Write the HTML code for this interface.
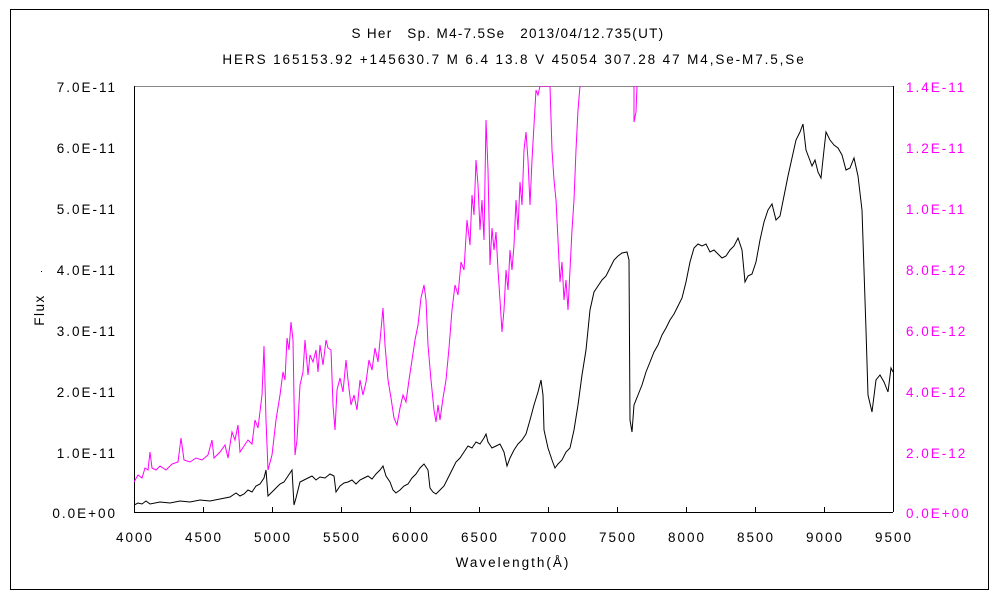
<!DOCTYPE html>
<html><head><meta charset="utf-8"><style>
html,body{margin:0;padding:0;background:#fff;}
svg{display:block;font-family:"Liberation Sans","Noto Sans CJK JP",sans-serif;}
</style></head><body>
<svg width="1000" height="600" viewBox="0 0 1000 600" xmlns="http://www.w3.org/2000/svg">
<rect x="0" y="0" width="1000" height="600" fill="#fff"/>
<rect x="10.5" y="9.5" width="978" height="580" fill="none" stroke="#000" stroke-width="1"/>
<text x="508" y="38" font-size="13.5" text-anchor="middle" letter-spacing="1.3" fill="#000">S Her　Sp. M4-7.5Se　2013/04/12.735(UT)</text>
<text x="514" y="64" font-size="13.5" text-anchor="middle" letter-spacing="1.9" fill="#000">HERS 165153.92 +145630.7 M 6.4 13.8 V 45054 307.28 47 M4,Se-M7.5,Se</text>
<defs><clipPath id="c"><rect x="134" y="86" width="759" height="426"/></clipPath></defs>
<line x1="134" y1="86.5" x2="893" y2="86.5" stroke="#888"/>
<line x1="134.5" y1="86" x2="134.5" y2="512" stroke="#000"/>
<line x1="893.5" y1="86" x2="893.5" y2="512" stroke="#000"/>
<line x1="134" y1="512.5" x2="893" y2="512.5" stroke="#000"/>
<g stroke="#000">
<line x1="203.5" y1="512" x2="203.5" y2="507"/><line x1="272.5" y1="512" x2="272.5" y2="507"/>
<line x1="341.5" y1="512" x2="341.5" y2="507"/><line x1="410.5" y1="512" x2="410.5" y2="507"/>
<line x1="479.5" y1="512" x2="479.5" y2="507"/><line x1="548.5" y1="512" x2="548.5" y2="507"/>
<line x1="617.5" y1="512" x2="617.5" y2="507"/><line x1="686.5" y1="512" x2="686.5" y2="507"/>
<line x1="755.5" y1="512" x2="755.5" y2="507"/><line x1="824.5" y1="512" x2="824.5" y2="507"/>
</g>
<g font-size="13.5" text-anchor="end" fill="#000" letter-spacing="2">
<text x="117" y="92">7.0E-11</text><text x="117" y="153">6.0E-11</text><text x="117" y="214">5.0E-11</text>
<text x="117" y="275">4.0E-11</text><text x="117" y="336">3.0E-11</text><text x="117" y="397">2.0E-11</text>
<text x="117" y="458">1.0E-11</text><text x="117" y="518">0.0E+00</text>
</g>
<g font-size="13.5" fill="#ff00ff" letter-spacing="2">
<text x="906" y="92">1.4E-11</text><text x="906" y="153">1.2E-11</text><text x="906" y="214">1.0E-11</text>
<text x="906" y="275">8.0E-12</text><text x="906" y="336">6.0E-12</text><text x="906" y="397">4.0E-12</text>
<text x="906" y="458">2.0E-12</text><text x="906" y="518">0.0E+00</text>
</g>
<g font-size="13.5" text-anchor="middle" fill="#000" letter-spacing="2">
<text x="135" y="542">4000</text><text x="204" y="542">4500</text><text x="273" y="542">5000</text>
<text x="342" y="542">5500</text><text x="411" y="542">6000</text><text x="480" y="542">6500</text>
<text x="549" y="542">7000</text><text x="618" y="542">7500</text><text x="687" y="542">8000</text>
<text x="756" y="542">8500</text><text x="825" y="542">9000</text><text x="894" y="542">9500</text>
<text x="513" y="567">Wavelength(Å)</text>
</g>
<text x="44" y="310" font-size="13.5" text-anchor="middle" letter-spacing="1.5" transform="rotate(-90 44 310)">Flux</text>
<rect x="41" y="271" width="1" height="1" fill="#000"/>
<g clip-path="url(#c)" fill="none" stroke-width="1">
<polyline stroke="#ff00ff" points="134,482 138,475 142,478 145,468 148,470 150,452 152,468 156,470 160,466 166,470 172,464 178,462 181,438 184,460 190,462 196,458 202,460 208,455 212,440 214,458 220,452 225,445 228,458 232,432 235,440 238,425 240,452 244,446 248,440 252,444 255,420 258,428 262,395 264,346 266,420 268,470 272,455 276,420 280,395 283,372 285,380 287,338 289,350 291,322 293,340 295,455 297,440 300,385 303,372 305,340 308,375 310,355 313,362 316,350 318,372 320,345 323,365 326,340 328,348 331,350 333,405 335,430 337,390 340,378 343,392 346,360 348,380 351,405 354,395 357,410 360,380 363,395 366,382 369,360 372,370 375,348 378,362 381,330 383,308 385,345 388,380 391,398 394,418 397,425 400,408 403,395 406,402 409,380 412,360 415,340 418,325 421,298 424,285 426,300 428,345 431,380 434,410 436,422 438,405 440,420 443,398 446,380 449,348 452,310 455,285 458,295 461,262 464,270 467,220 470,245 472,195 474,215 476,160 478,185 480,230 482,200 484,240 486,120 488,170 490,265 492,228 494,250 496,232 498,270 500,300 502,332 504,310 506,270 508,290 510,250 512,270 514,245 516,200 518,230 520,182 522,205 524,150 526,132 528,160 530,205 532,160 534,125 536,90 538,95 540,86 544,86 548,86 550,86 552,150 554,180 556,200 558,240 560,282 562,262 564,300 566,280 568,310 570,270 572,230 574,200 576,150 578,110 580,86"/>
<polyline stroke="#ff00ff" points="634,86 634,122 636,112 637,86"/>
<polyline stroke="#000" points="134,505 138,503 142,504 146,501 150,504 160,502 170,503 180,501 190,502 200,500 210,501 220,499 230,497 236,493 240,496 244,494 248,490 252,492 256,486 260,484 264,478 266,470 268,496 272,492 276,488 280,484 284,482 288,476 292,470 294,505 296,498 300,482 304,480 308,478 312,476 316,480 320,477 325,478 330,474 334,476 336,492 340,486 344,483 348,482 352,480 356,484 360,480 364,478 368,476 372,479 376,474 380,470 383,466 386,476 390,482 393,490 396,493 400,490 404,486 408,484 412,478 416,474 420,468 424,464 428,470 430,488 433,492 436,494 440,490 444,486 448,478 452,470 456,462 460,458 464,452 468,446 472,448 476,442 480,444 484,438 486,434 488,442 492,448 496,446 500,444 504,452 507,466 510,458 514,450 518,444 522,440 526,434 530,420 534,405 538,392 541,380 543,395 544,430 548,448 552,460 555,468 558,464 562,460 566,452 570,448 574,430 578,405 582,375 586,350 590,310 594,292 598,286 602,280 606,276 610,268 614,260 618,256 622,253 627,252 629,260 630,420 632,432 634,405 638,395 642,385 646,372 650,362 654,352 658,345 662,335 666,328 670,320 674,314 678,306 682,298 686,282 690,262 694,248 698,244 702,246 706,244 710,252 714,250 718,254 722,258 726,256 730,250 734,246 738,238 742,250 745,282 748,276 752,274 756,262 760,240 764,222 768,210 772,204 776,220 780,216 784,196 788,176 792,158 796,140 800,132 803,124 806,150 809,158 812,166 815,160 818,172 821,178 824,150 826,132 830,140 834,145 838,148 842,155 846,170 850,168 854,158 858,176 862,210 864,270 866,330 868,395 872,412 876,380 880,375 884,382 888,392 891,368 893,372"/>
</g>
</svg>
</body></html>
